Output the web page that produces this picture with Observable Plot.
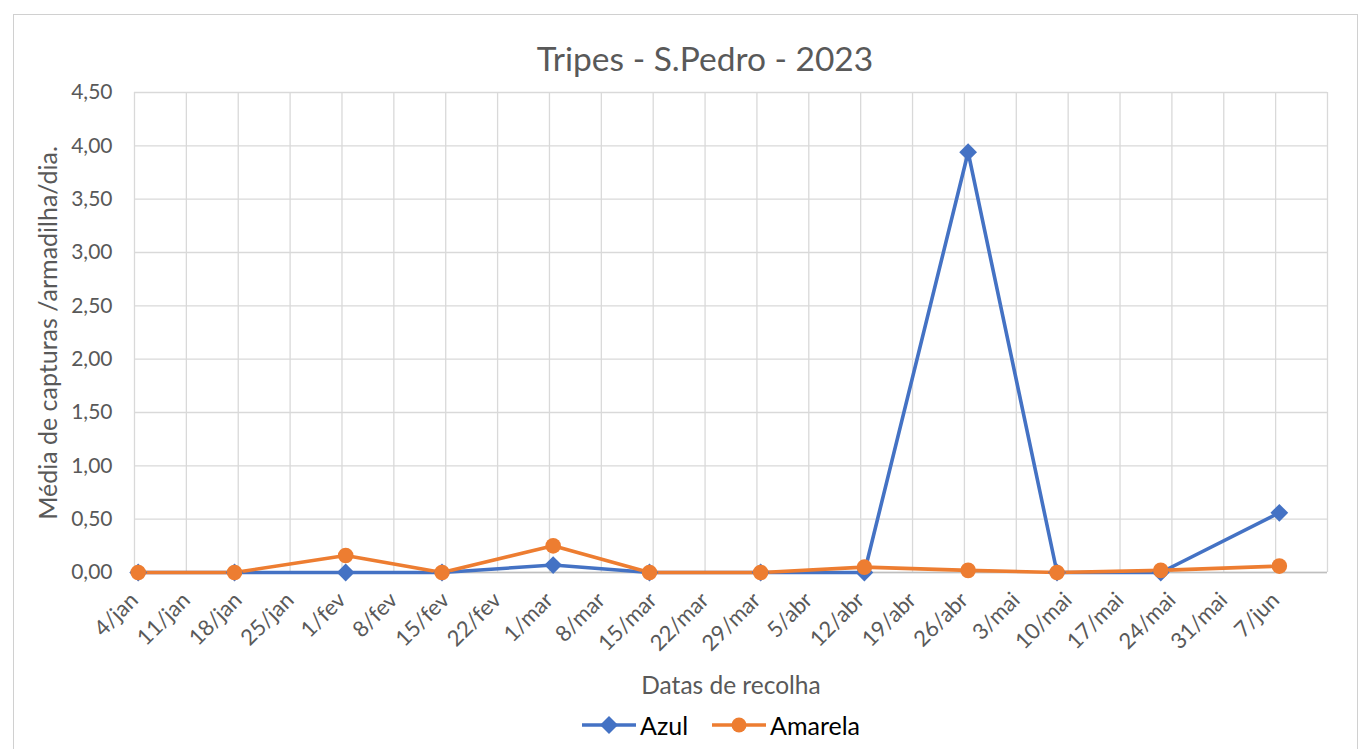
<!DOCTYPE html>
<html>
<head>
<meta charset="utf-8">
<script src="https://cdn.jsdelivr.net/npm/d3@7"></script>
<script src="https://cdn.jsdelivr.net/npm/@observablehq/plot@0.6"></script>
<style>
  html, body { margin: 0; padding: 0; background: #fff; }
  body { width: 1367px; height: 749px; position: relative; overflow: hidden; font-family: Lato, "Open Sans", sans-serif; }
  #frame { position: absolute; left: 13px; top: 14px; width: 1345px; height: 760px; border: 1px solid #d0d0d0; box-sizing: border-box; }
  #chart { position: absolute; left: 0; top: 0; }
  .lbl { position: absolute; white-space: nowrap; color: #595959; }
  #title { left: 0; width: 1410px; text-align: center; top: 36px; font-size: 33.5px; line-height: 44px; }
  #xtitle { left: 0; width: 1462px; text-align: center; top: 670px; font-size: 24.5px; line-height: 30px; }
  #ytitle { left: 47px; top: 333px; font-size: 25px; line-height: 30px; transform: translate(-50%, -50%) rotate(-90deg); }
  #legend { position: absolute; top: 709px; left: 0; width: 1442px; display: flex; justify-content: center; align-items: center; gap: 24px; font-size: 25px; line-height: 32px; color: #000; }
  .item { display: flex; align-items: center; gap: 4px; }
</style>
</head>
<body>
<div id="frame"></div>
<div id="chart"></div>
<div id="title" class="lbl">Tripes - S.Pedro - 2023</div>
<div id="ytitle" class="lbl">Média de capturas /armadilha/dia.</div>
<div id="xtitle" class="lbl">Datas de recolha</div>
<div id="legend"></div>
<script>
// ---- data ----
const sampleDates = ["2023-01-04","2023-01-17","2023-02-01","2023-02-14","2023-03-01","2023-03-14","2023-03-29","2023-04-12","2023-04-26","2023-05-08","2023-05-22","2023-06-07"];
const azul    = [0, 0, 0, 0, 0.07, 0, 0, 0, 3.94, 0, 0, 0.56];
const amarela = [0, 0, 0.16, 0, 0.25, 0, 0, 0.05, 0.02, 0, 0.02, 0.06];
const seriesNames = ["Azul", "Amarela"];
const seriesColors = ["#4472C4", "#ED7D31"];
const tickLabels = ["4/jan","11/jan","18/jan","25/jan","1/fev","8/fev","15/fev","22/fev","1/mar","8/mar","15/mar","22/mar","29/mar","5/abr","12/abr","19/abr","26/abr","3/mai","10/mai","17/mai","24/mai","31/mai","7/jun"];
const yTicks = [0, 0.5, 1, 1.5, 2, 2.5, 3, 3.5, 4, 4.5];
const xStart = "2023-01-04";
const xEnd = "2023-06-14";

// ---- build ----
const start = new Date(xStart + "T00:00:00Z");
const end = new Date(xEnd + "T00:00:00Z");
const tickDates = tickLabels.map((_, i) => d3.utcDay.offset(start, 7 * i));
const gridDates = [...tickDates, end];
const labelOf = new Map(tickDates.map((d, i) => [+d, tickLabels[i]]));
// points sit in the middle of their day (date axis, base unit = day)
const rows = [];
sampleDates.forEach((s, i) => {
  const d = d3.utcHour.offset(new Date(s + "T00:00:00Z"), 12);
  rows.push({date: d, value: azul[i], serie: "Azul"});
  rows.push({date: d, value: amarela[i], serie: "Amarela"});
});
const fmt = v => d3.format(".2f")(v).replace(".", ",");

const chart = Plot.plot({
  width: 1367,
  height: 749,
  marginLeft: 134,
  marginRight: 40,
  marginTop: 92,
  marginBottom: 177,
  style: {color: "#595959", fontFamily: "Lato, 'Open Sans', sans-serif", background: "transparent"},
  x: {type: "utc", domain: [start, end]},
  y: {domain: [0, 4.5]},
  marks: [
    Plot.gridX(gridDates, {stroke: "#d9d9d9", strokeOpacity: 1, strokeWidth: 1.3}),
    Plot.gridY(yTicks, {stroke: "#d9d9d9", strokeOpacity: 1, strokeWidth: 1.3}),
    Plot.ruleY([0], {stroke: "#bfbfbf", strokeWidth: 1.5}),
    Plot.axisY(yTicks, {tickFormat: fmt, tickSize: 0, tickPadding: 22, fontSize: 21, label: null}),
    Plot.axisX(tickDates, {tickFormat: d => labelOf.get(+d), tickRotate: -45, tickSize: 0, tickPadding: 24, fontSize: 22, label: null}),
    Plot.line(rows.filter(r => r.serie === "Azul"), {x: "date", y: "value", stroke: seriesColors[0], strokeWidth: 3.6}),
    Plot.line(rows.filter(r => r.serie === "Amarela"), {x: "date", y: "value", stroke: seriesColors[1], strokeWidth: 3.6}),
    Plot.dot(rows.filter(r => r.serie === "Azul"), {x: "date", y: "value", symbol: "diamond2", r: 8, fill: seriesColors[0], stroke: null}),
    Plot.dot(rows.filter(r => r.serie === "Amarela"), {x: "date", y: "value", symbol: "circle", r: 7.8, fill: seriesColors[1], stroke: null})
  ]
});
document.getElementById("chart").appendChild(chart);

// legend
const legend = document.getElementById("legend");
seriesNames.forEach((name, i) => {
  const item = document.createElement("div");
  item.className = "item";
  const sym = i === 0
    ? `<svg width="54" height="20"><line x1="0" y1="10" x2="54" y2="10" stroke="${seriesColors[i]}" stroke-width="3.6"/><path d="M27,1 L36,10 L27,19 L18,10 Z" fill="${seriesColors[i]}"/></svg>`
    : `<svg width="54" height="20"><line x1="0" y1="10" x2="54" y2="10" stroke="${seriesColors[i]}" stroke-width="3.6"/><circle cx="27" cy="10" r="7.5" fill="${seriesColors[i]}"/></svg>`;
  item.innerHTML = sym + `<span>${name}</span>`;
  legend.appendChild(item);
});
</script>
</body>
</html>
